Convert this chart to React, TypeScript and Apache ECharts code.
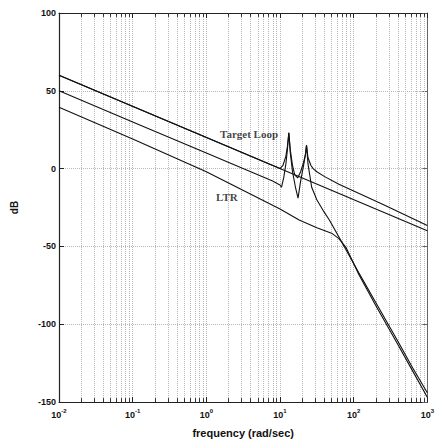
import React, { useEffect, useRef } from 'react';
import * as echarts from 'echarts';

// Decade ticks and minor log grid positions (rad/sec)
const decadeTicks = [0.01, 0.1, 1, 10, 100, 1000];
const minorFreqs = [
  0.02, 0.03, 0.04, 0.05, 0.06, 0.07, 0.08, 0.09,
  0.2, 0.3, 0.4, 0.5, 0.6, 0.7, 0.8, 0.9,
  2, 3, 4, 5, 6, 7, 8, 9,
  20, 30, 40, 50, 60, 70, 80, 90,
  200, 300, 400, 500, 600, 700, 800, 900,
];
const yTicks = [100, 50, 0, -50, -100, -150];

// Curve A: straight target loop line
const freqA = [0.01, 1000];
const dbA = [60, -40];

// Curve B: middle curve with resonances
const freqB = [0.01, 0.1, 1, 7.94, 9.55, 10, 10.47, 11.22, 12.02, 12.59, 13.18, 13.8, 14.79, 16.22, 17.58, 19.05, 20.89, 22.13, 22.91, 23.99, 26.3, 28.18, 31.62, 39.81, 63.1, 251.2, 1000];
const dbB = [50, 30, 10, -8, -10, -10.5, -12, -6, 3, 12, 23, 10, -2, -12, -19, -8, 2, 9, 15, 7, 2, 0, -2, -5, -10, -23, -36.5];

// Curve C: follows target, resonances, then steep roll-off
const freqC = [0.01, 10, 10.96, 12.02, 12.59, 13.18, 13.8, 14.79, 15.85, 17.38, 19.05, 20.89, 22.13, 22.91, 23.99, 26.92, 31.62, 39.81, 46.77, 63.1, 85.11, 117.5, 199.5, 398.1, 631, 1000];
const dbC = [60, 0, 2, 8, 14, 23, 12, 2, -4, -6, -2, 4, 9, 15, 3, -12, -20, -28, -33, -44, -55, -67, -86, -111, -128, -144];

// Curve D: lowest (LTR) curve
const freqD = [0.01, 0.1, 1, 10, 18.2, 31.62, 50.12, 63.1, 79.43, 89.13, 117.5, 199.5, 398.1, 631, 1000];
const dbD = [39.5, 19, -2, -26, -33, -38, -41.5, -45, -51, -56, -68, -88, -113, -130, -147];

// Text annotations
const noteTexts = ['Target Loop', 'LTR'];
const noteFreqs = [3.8, 1.9];
const noteDbs = [22, -18.5];

const zip = (xs: number[], ys: number[]) => xs.map((x, i) => [x, ys[i]]);

export default function App() {
  const ref = useRef<HTMLDivElement>(null);
  useEffect(() => {
    const chart = echarts.init(ref.current!, null, { renderer: 'svg' });
    const lineColor = '#111';
    const gridStyle = { type: 'dotted' as const, color: '#b8b8b8', width: 1 };
    const labelFont = 'Liberation Sans';

    const curve = (name: string, xs: number[], ys: number[], extra: any = {}) => ({
      name,
      type: 'line',
      data: zip(xs, ys),
      showSymbol: false,
      symbol: 'none',
      lineStyle: { color: lineColor, width: 1.1 },
      silent: true,
      z: 5,
      ...extra,
    });

    const tickStyle = { type: 'solid', color: '#333', width: 1 };
    const minorGrid = minorFreqs.map((f) => ({ xAxis: f }));
    const minorTicksBottom = minorFreqs.map((f) => [
      { coord: [f, -150], lineStyle: tickStyle },
      { coord: [f, -147.5] },
    ]);
    const minorTicksTop = minorFreqs.map((f) => [
      { coord: [f, 100], lineStyle: tickStyle },
      { coord: [f, 97.5] },
    ]);

    const option: any = {
      animation: false,
      backgroundColor: '#fff',
      grid: { left: 59, right: 7, top: 13, bottom: 41, containLabel: false },
      xAxis: [
        {
          type: 'log',
          logBase: 10,
          min: 0.01,
          max: 1000,
          position: 'bottom',
          name: 'frequency (rad/sec)',
          nameLocation: 'middle',
          nameGap: 25,
          nameTextStyle: { fontFamily: labelFont, fontWeight: 'bold', fontSize: 11, color: '#111' },
          axisLine: { show: true, onZero: false, lineStyle: { color: '#222', width: 1.2 } },
          axisTick: { show: true, inside: true, length: 5, lineStyle: { color: '#222' } },
          axisLabel: {
            margin: 6,
            formatter: (v: number) => {
              const e = String(Math.round(Math.log10(v)));
              return `{b|10}{s|${e}}`;
            },
            rich: {
              b: { fontFamily: labelFont, fontWeight: 'bold', fontSize: 9, color: '#111' },
              s: { fontFamily: labelFont, fontWeight: 'bold', fontSize: 6, color: '#111', padding: [0, 0, 7, 0] },
            },
          },
          splitLine: { show: true, lineStyle: gridStyle },
          minorTick: { show: false },
        },
        {
          type: 'log',
          logBase: 10,
          min: 0.01,
          max: 1000,
          position: 'top',
          axisLine: { show: true, onZero: false, lineStyle: { color: '#222', width: 1.2 } },
          axisTick: { show: true, inside: true, length: 5, lineStyle: { color: '#222' } },
          axisLabel: { show: false },
          splitLine: { show: false },
        },
      ],
      yAxis: [
        {
          type: 'value',
          min: -150,
          max: 100,
          interval: 50,
          position: 'left',
          name: 'dB',
          nameLocation: 'middle',
          nameGap: 40,
          nameRotate: 90,
          nameTextStyle: { fontFamily: labelFont, fontWeight: 'bold', fontSize: 10, color: '#111' },
          axisLine: { show: true, onZero: false, lineStyle: { color: '#222', width: 1.2 } },
          axisTick: { show: true, inside: true, length: 5, lineStyle: { color: '#222' } },
          axisLabel: { fontFamily: labelFont, fontWeight: 'bold', fontSize: 9, color: '#111', margin: 3 },
          splitLine: { show: true, lineStyle: gridStyle },
        },
        {
          type: 'value',
          min: -150,
          max: 100,
          interval: 50,
          position: 'right',
          axisLine: { show: true, onZero: false, lineStyle: { color: '#666', width: 1 } },
          axisTick: { show: true, inside: true, length: 5, lineStyle: { color: '#666' } },
          axisLabel: { show: false },
          splitLine: { show: false },
        },
      ],
      series: [
        curve('A', freqA, dbA, {
          markLine: {
            silent: true,
            symbol: 'none',
            label: { show: false },
            animation: false,
            lineStyle: gridStyle,
            data: [...minorGrid, ...minorTicksBottom, ...minorTicksTop],
          },
        }),
        curve('B', freqB, dbB),
        curve('C', freqC, dbC),
        curve('D', freqD, dbD),
        {
          name: 'notes',
          type: 'scatter',
          symbolSize: 0,
          silent: true,
          data: noteTexts.map((t, i) => ({ value: [noteFreqs[i], noteDbs[i]], name: t })),
          label: {
            show: true,
            position: 'inside',
            formatter: (p: any) => p.name,
            fontFamily: 'Liberation Serif',
            fontWeight: 'bold',
            fontSize: 11,
            color: '#111',
          },
          z: 10,
        },
      ],
    };
    chart.setOption(option);
    return () => chart.dispose();
  }, []);
  return (
    <div
      ref={ref}
      style={{ position: 'absolute', left: 0, top: 0, width: 437, height: 443 }}
    />
  );
}
